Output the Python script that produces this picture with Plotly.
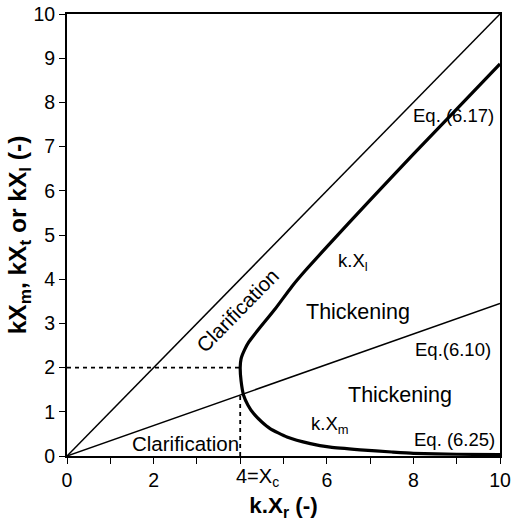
import plotly.graph_objects as go

# Data
diag_x = [0, 10]
diag_y = [0, 10]
eq610_x = [0, 10]
eq610_y = [0, 3.45]
xl_x = [4.0, 4.02, 4.1, 4.2, 4.42, 4.81, 5.19, 5.5, 6.0, 7.0, 8.0, 9.0, 10.0]
xl_y = [2.0, 2.2, 2.4, 2.58, 2.86, 3.33, 3.83, 4.19, 4.73, 5.79, 6.83, 7.85, 8.87]
xm_x = [4.0, 4.02, 4.08, 4.18, 4.31, 4.5, 4.69, 5.08, 5.62, 6.08, 6.77, 7.5, 8.0, 9.0, 10.0]
xm_y = [2.0, 1.7, 1.37, 1.15, 0.96, 0.77, 0.62, 0.43, 0.28, 0.2, 0.14, 0.09, 0.06, 0.04, 0.03]
hdash_x = [0, 4]
hdash_y = [2, 2]
vdash_x = [4, 4]
vdash_y = [0, 1.38]
x_tickvals = list(range(11))
x_ticktext = ["0", "", "2", "", "", "", "6", "", "8", "", "10"]
y_tickvals = list(range(11))

FONT = "Arial, Liberation Sans, Helvetica, sans-serif"

fig = go.Figure()
line_kw = dict(mode="lines", showlegend=False, hoverinfo="skip")
fig.add_trace(go.Scatter(x=diag_x, y=diag_y, line=dict(color="black", width=1.5), **line_kw))
fig.add_trace(go.Scatter(x=eq610_x, y=eq610_y, line=dict(color="black", width=1.5), **line_kw))
fig.add_trace(go.Scatter(x=xm_x[::-1] + xl_x[1:], y=xm_y[::-1] + xl_y[1:],
                         line=dict(color="black", width=3.2, shape="spline", smoothing=0.5), **line_kw))
fig.add_trace(go.Scatter(x=hdash_x, y=hdash_y, line=dict(color="black", width=1.8, dash="4px,4px"), **line_kw))
fig.add_trace(go.Scatter(x=vdash_x, y=vdash_y, line=dict(color="black", width=1.8, dash="4px,4px"), **line_kw))

ann = [
    dict(x=8.92, y=7.71, text="Eq. (6.17)", size=18.5),
    dict(x=6.61, y=4.38, text="k.X<sub>l</sub>", size=18.5),
    dict(x=6.71, y=3.26, text="Thickening", size=21.5),
    dict(x=8.92, y=2.42, text="Eq.(6.10)", size=18.5),
    dict(x=7.68, y=1.37, text="Thickening", size=21.5),
    dict(x=6.08, y=0.70, text="k.X<sub>m</sub>", size=18.5),
    dict(x=8.94, y=0.38, text="Eq. (6.25)", size=18.5),
    dict(x=2.73, y=0.29, text="Clarification", size=20.5),
    dict(x=3.93, y=3.29, text="Clarification", size=20.5, angle=-45.5),
]
for a in ann:
    fig.add_annotation(x=a["x"], y=a["y"], text=a["text"], showarrow=False,
                       textangle=a.get("angle", 0),
                       font=dict(family=FONT, size=a["size"], color="black"))

fig.add_annotation(x=4, y=0, xref="x", yref="paper", text="4=X<sub>c</sub>", showarrow=False,
                   xanchor="left", yanchor="top", xshift=-6, yshift=-7,
                   font=dict(family=FONT, size=20, color="black"))

fig.update_layout(
    width=514, height=523,
    margin=dict(l=67, r=14, t=14, b=67),
    plot_bgcolor="white", paper_bgcolor="white",
    font=dict(family=FONT, size=19.5, color="black"),
)
fig.update_xaxes(range=[0, 10], tickvals=x_tickvals, ticktext=x_ticktext, automargin=False,
                 ticks="outside", ticklen=6, tickwidth=1.2, tickcolor="black",
                 showline=True, linecolor="black", linewidth=2, mirror=True,
                 showgrid=False, zeroline=False,
                 title=dict(text="<b>k.X<sub>r</sub> (-)</b>", font=dict(size=22.5), standoff=7))
fig.update_yaxes(range=[0, 10], tickvals=y_tickvals, automargin=False,
                 ticks="outside", ticklen=6, tickwidth=1.2, tickcolor="black",
                 showline=True, linecolor="black", linewidth=2, mirror=True,
                 showgrid=False, zeroline=False,
                 title=dict(text="<b>kX<sub>m</sub>, kX<sub>t</sub> or kX<sub>l</sub> (-)</b>", font=dict(size=24.5), standoff=0))

fig.write_html("out.html", config={"displayModeBar": False},
               post_script="document.body.style.margin='0';document.body.style.overflow='hidden';")
